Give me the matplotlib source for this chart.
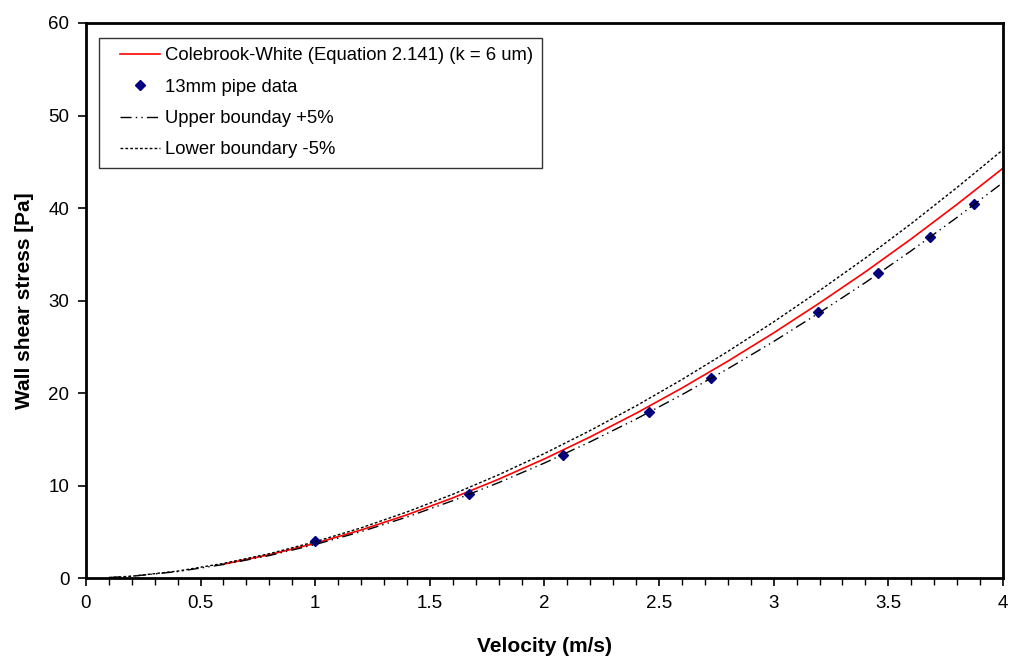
#!/usr/bin/env python3
"""Wall shear stress against velocity, 13mm pipe"""
import matplotlib
matplotlib.use("Agg")
import matplotlib.pyplot as plt
from matplotlib.lines import Line2D
from matplotlib.legend_handler import HandlerLine2D
from matplotlib.ticker import MultipleLocator

plt.rcParams['font.family'] = ['Liberation Sans', 'DejaVu Sans']

# Colebrook-White curve
cw_v = [0.6, 0.8, 1.0, 1.2, 1.4, 1.6, 1.8, 2.0, 2.2, 2.4, 2.6, 2.8,
        3.0, 3.2, 3.4, 3.6, 3.8, 4.0]
cw_tau = [1.50, 2.52, 3.75, 5.19, 6.83, 8.66, 10.68, 12.88, 15.26, 17.81,
          20.54, 23.44, 26.5, 29.73, 33.1, 36.66, 40.4, 44.3]

# boundaries
bnd_v = [0.1, 0.2, 0.4, 0.6, 0.8, 1.0, 1.2, 1.4, 1.6, 1.8, 2.0, 2.2,
         2.4, 2.6, 2.8, 3.0, 3.2, 3.4, 3.6, 3.8, 4.0]
upper_tau = [0.05, 0.19, 0.70, 1.46, 2.43, 3.62, 5.01, 6.59, 8.36, 10.31,
             12.43, 14.73, 17.19, 19.82, 22.62, 25.57, 28.69, 31.94,
             35.38, 38.99, 42.75]
lower_tau = [0.05, 0.20, 0.75, 1.58, 2.63, 3.92, 5.42, 7.14, 9.05, 11.16,
             13.46, 15.95, 18.61, 21.46, 24.49, 27.69, 31.07, 34.59,
             38.31, 42.22, 46.3]

# measured data
pipe_v = [1.00, 1.67, 2.08, 2.455, 2.725, 3.195, 3.455, 3.68, 3.873]
pipe_tau = [3.95, 9.05, 13.3, 17.95, 21.6, 28.76, 32.97, 36.86, 40.46]

fig = plt.figure(figsize=(10.1, 6.57), dpi=100)
ax = fig.add_axes([0.0851, 0.1202, 0.9079, 0.8448])

ax.plot(cw_v, cw_tau, color='red', lw=1.2,
        label='Colebrook-White (Equation 2.141) (k = 6 um)')
ax.plot(pipe_v, pipe_tau, linestyle='none', marker='D', ms=5,
        color='#000080', label='13mm pipe data')
ax.plot(bnd_v, upper_tau, color='black', lw=1.0,
        dashes=[8, 3, 1, 3, 1, 3], label='Upper bounday +5%')
ax.plot(bnd_v, lower_tau, color='black', lw=1.0,
        dashes=[2, 1.5], label='Lower boundary -5%')

ax.set_xlim(0, 4)
ax.set_ylim(0, 60)
ax.xaxis.set_minor_locator(MultipleLocator(0.1))
ax.yaxis.set_major_locator(MultipleLocator(10))
ax.set_xticks([0, 0.5, 1, 1.5, 2, 2.5, 3, 3.5, 4])
ax.set_xticklabels(['0', '0.5', '1', '1.5', '2', '2.5', '3', '3.5', '4'])
ax.tick_params(axis='both', which='major', direction='out', length=6,
               width=1.2, labelsize=13.5, pad=6)
ax.tick_params(axis='x', which='minor', direction='out', length=5,
               width=1.0)
for s in ax.spines.values():
    s.set_linewidth(2)

ax.set_xlabel('Velocity (m/s)', fontsize=15, fontweight='bold', labelpad=18)
ax.set_ylabel('Wall shear stress [Pa]', fontsize=15, fontweight='bold',
              labelpad=10)

leg = ax.legend(loc='upper left', bbox_to_anchor=(0.0142, 0.973),
                borderaxespad=0, fontsize=13.3, frameon=True,
                fancybox=False, edgecolor='black', handlelength=2.8,
                borderpad=0.5, labelspacing=0.78, handletextpad=0.25,
                handler_map={Line2D: HandlerLine2D(xpad=0.65)})
leg.get_frame().set_linewidth(1.0)

fig.savefig('out.png', dpi=100)
